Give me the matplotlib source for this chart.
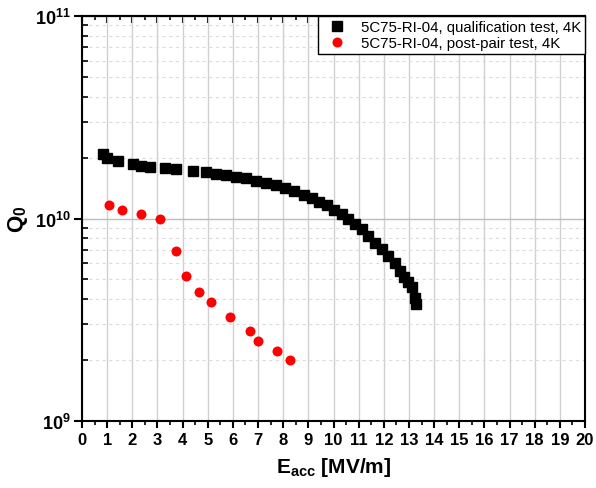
import matplotlib
matplotlib.use("Agg")
import matplotlib.pyplot as plt
from matplotlib.ticker import LogLocator, MultipleLocator, NullFormatter, FixedLocator

plt.rcParams['font.family'] = ['Liberation Sans', 'DejaVu Sans']
plt.rcParams['mathtext.fontset'] = 'custom'
plt.rcParams['mathtext.rm'] = 'Liberation Sans'
plt.rcParams['mathtext.bf'] = 'Liberation Sans:bold'
plt.rcParams['mathtext.it'] = 'Liberation Sans:italic'

# qualification test, 4K
qual_E = [0.85, 0.98, 1.42, 2.04, 2.35, 2.7, 3.3, 3.74, 4.43, 4.93, 5.31, 5.71,
          6.11, 6.51, 6.9, 7.3, 7.7, 8.07, 8.44, 8.84, 9.13, 9.44, 9.73, 10.03,
          10.33, 10.59, 10.85, 11.12, 11.38, 11.65, 11.92, 12.18, 12.45, 12.64,
          12.82, 12.98, 13.12, 13.25, 13.28]
qual_Q = [2.08e10, 2.0e10, 1.92e10, 1.86e10, 1.82e10, 1.8e10, 1.78e10, 1.75e10,
          1.72e10, 1.69e10, 1.66e10, 1.64e10, 1.61e10, 1.58e10, 1.54e10, 1.50e10,
          1.46e10, 1.42e10, 1.37e10, 1.31e10, 1.26e10, 1.21e10, 1.16e10, 1.10e10,
          1.05e10, 9.95e9, 9.4e9, 8.87e9, 8.2e9, 7.6e9, 7.06e9, 6.55e9, 6.03e9,
          5.52e9, 5.15e9, 4.85e9, 4.6e9, 4.05e9, 3.8e9]

# post-pair test, 4K
post_E = [1.07, 1.6, 2.33, 3.1, 3.72, 4.12, 4.65, 5.12, 5.9, 6.67, 6.99, 7.75, 8.27]
post_Q = [1.16e10, 1.10e10, 1.05e10, 9.9e9, 6.9e9, 5.22e9, 4.34e9, 3.85e9,
          3.27e9, 2.79e9, 2.48e9, 2.21e9, 1.99e9]

labels = ['5C75-RI-04, qualification test, 4K', '5C75-RI-04, post-pair test, 4K']
x_ticks = list(range(0, 21))
y_ticks = [1e9, 1e10, 1e11]
y_tick_labels = [r'$\mathbf{10^{9}}$', r'$\mathbf{10^{10}}$', r'$\mathbf{10^{11}}$']

fig = plt.figure(figsize=(5.96, 4.89), dpi=100)
ax = fig.add_axes([82/596, 1-422/489, (585-82)/596, (422-17)/489])

ax.set_yscale('log')
ax.set_xlim(0, 20)
ax.set_ylim(1e9, 1e11)

# grid
ax.set_axisbelow(True)
ax.xaxis.set_major_locator(FixedLocator(x_ticks))
ax.xaxis.set_minor_locator(MultipleLocator(0.5))
ax.yaxis.set_major_locator(FixedLocator(y_ticks))
ax.yaxis.set_minor_locator(LogLocator(base=10, subs=range(2, 10)))
ax.yaxis.set_minor_formatter(NullFormatter())
ax.grid(True, which='major', axis='x', color='#d0d0d0', linewidth=1.0, linestyle='-')
ax.grid(True, which='major', axis='y', color='#bcbcbc', linewidth=1.0, linestyle='-')
ax.grid(True, which='minor', axis='y', color='#dcdcdc', linewidth=0.8, linestyle=(0, (3, 3)))

ax.plot(qual_E, qual_Q, linestyle='none', marker='s', markersize=6.5, color='black',
        label=labels[0], zorder=3)
ax.plot(post_E, post_Q, linestyle='none', marker='o', markersize=7.2, color='#ff0000',
        markeredgewidth=0, label=labels[1], zorder=3)

ax.set_xticks(x_ticks)
ax.set_xticklabels([str(v) for v in x_ticks], fontweight='bold', fontsize=12)
ax.set_yticks(y_ticks)
ax.set_yticklabels(y_tick_labels, fontsize=13)

for s in ax.spines.values():
    s.set_linewidth(1.5)
    s.set_color('black')

ax.tick_params(axis='x', which='major', direction='out', length=5, width=1.5, top=False, pad=3)
ax.tick_params(axis='x', which='minor', direction='out', length=3, width=1.2, top=False)
ax.tick_params(axis='y', which='major', direction='out', length=6, width=1.5, right=False, pad=2)
ax.tick_params(axis='y', which='minor', direction='in', length=4, width=1.2, right=False)

# mirrored top inward ticks
axt = ax.secondary_xaxis('top')
axt.set_xticks(x_ticks)
axt.xaxis.set_minor_locator(MultipleLocator(0.5))
axt.tick_params(axis='x', which='major', direction='in', length=5, width=1.5, labeltop=False)
axt.tick_params(axis='x', which='minor', direction='in', length=3, width=1.2)
axt.spines['top'].set_linewidth(1.5)

ax.set_xlabel(r'$\mathbf{E_{acc}}$ [MV/m]', fontsize=15, fontweight='bold', labelpad=6)
ax.set_ylabel(r'$\mathbf{Q_{0}}$', fontsize=16, fontweight='bold', labelpad=4)

leg = ax.legend(loc='upper right', fontsize=10.8, frameon=True, fancybox=False,
                edgecolor='black', framealpha=1, borderaxespad=0.0,
                handletextpad=0.6, borderpad=0.25, labelspacing=0.15, handlelength=2.0)
leg.get_frame().set_linewidth(1.0)

fig.savefig('out.png', dpi=100)
